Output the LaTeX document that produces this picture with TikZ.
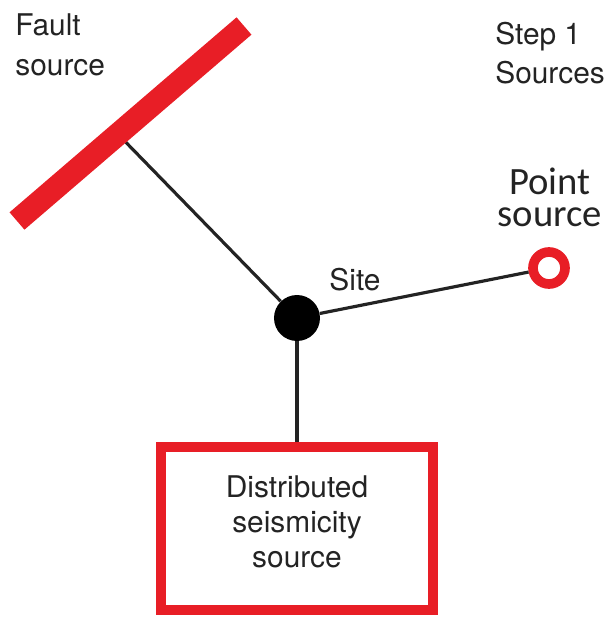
\documentclass[tikz,border=0pt]{standalone}
\usepackage{fontspec}
\setmainfont{TeX Gyre Heros}
\newfontfamily\pointfont{Carlito}
\usetikzlibrary{calc}

\definecolor{srcred}{RGB}{232,30,38}
\definecolor{inkgray}{RGB}{35,35,35}

\tikzset{
    lbl/.style={inner sep=0pt, text=inkgray, align=left,
        font=\fontsize{17}{22.5}\selectfont},
    link/.style={line width=1.8pt, draw=inkgray},
    sitedot/.style={circle, fill=black, inner sep=0pt, minimum size=0.92cm},
    ptring/.style={circle, draw=srcred, line width=5.5pt, fill=white,
        inner sep=0pt, minimum size=0.64cm},
    srcbox/.style={rectangle, draw=srcred, line width=5.7pt, text=inkgray,
        align=center, minimum width=5.44cm, minimum height=3.26cm,
        text depth=0.28cm, font=\fontsize{17}{19.9}\selectfont}
}

\begin{document}
\begin{tikzpicture}
    \useasboundingbox (0,0) rectangle (12.3,12.34);

    % Labels
    \node[lbl, anchor=north west] (faultlbl) at (0.3,12.07) {Fault\\source};
    \node[lbl, anchor=north west] (steplbl) at (9.9,11.91) {Step 1\\Sources};
    \node[lbl, anchor=base] (sitelbl) at (7.1,6.54) {Site};
    \node[lbl, anchor=north, align=center, font={\pointfont\fontsize{22}{18}\selectfont}]
        (ptlbl) at (11.0,8.98) {Point\\source};

    % Fault trace
    \coordinate (fault-a) at (0.34,7.92);
    \coordinate (fault-b) at (4.88,11.82);
    \coordinate (fault-mid) at ($(fault-a)!0.445!(fault-b)$);

    % Site and sources
    \node[sitedot] (site) at (5.94,5.98) {};
    \node[ptring] (pt) at (10.98,6.98) {};
    \node[srcbox] (dist) at (5.94,1.77) {Distributed\\seismicity\\source};

    % Source-to-site paths
    \draw[link] (fault-mid) -- (site);
    \draw[link] (site) -- (pt);
    \draw[link] (site) -- (dist);

    % Fault drawn over its path
    \draw[line width=13pt, srcred] (fault-a) -- (fault-b);
\end{tikzpicture}
\end{document}
